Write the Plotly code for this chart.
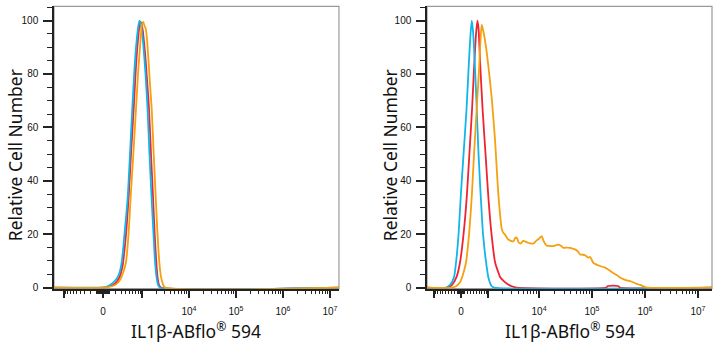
import numpy as np
import plotly.graph_objects as go

# ---------------- data (x in biexponential display decades, y in % of max) ----------------
left_blue_x = [-1.043, -0.064, 0.064, 0.149, 0.255, 0.340, 0.398, 0.457, 0.526, 0.574, 0.623, 0.670,
               0.713, 0.751, 0.777, 0.819, 0.862, 0.904, 0.947, 0.989, 1.032, 1.074, 1.106, 1.138,
               1.170, 1.213, 5.021]
left_blue_y = [0, 0, 0.3, 1, 2.5, 5, 9.5, 20, 34, 50, 67, 82,
               92, 98, 100, 97, 90, 80, 67, 50, 34, 20, 10, 4,
               1, 0, 0]

left_red_x = [-1.043, 0.021, 0.149, 0.255, 0.340, 0.415, 0.479, 0.543, 0.596, 0.653, 0.702, 0.745,
              0.777, 0.802, 0.840, 0.894, 0.936, 0.979, 1.021, 1.064, 1.100, 1.132, 1.160, 1.191,
              1.234, 5.021]
left_red_y = [0, 0, 0.5, 1.5, 3.5, 8, 18, 33, 50, 67, 83, 93,
              98, 99.5, 97, 88, 78, 67, 50, 34, 20, 10, 4, 1,
              0, 0]

left_orange_x = [-1.043, 0.021, 0.191, 0.298, 0.383, 0.436, 0.489, 0.543, 0.589, 0.645, 0.702, 0.745,
                 0.787, 0.823, 0.840, 0.857, 0.883, 0.909, 0.936, 0.968, 1.000, 1.036, 1.079, 1.121,
                 1.160, 1.198, 1.234, 1.277, 1.319, 5.021]
left_orange_y = [0, 0, 0.5, 1.5, 3.5, 6, 9.5, 20, 34, 50, 67, 80,
                 90, 98, 99, 99.5, 98, 97, 93, 85, 76, 67, 50, 34,
                 20, 9.5, 4, 1.2, 0, 0]

right_blue_x = [-0.642, -0.283, -0.208, -0.132, -0.094, -0.047, -0.006, 0.047, 0.104, 0.142, 0.179,
                0.202, 0.226, 0.264, 0.296, 0.330, 0.372, 0.415, 0.472, 0.519, 0.579, 0.623, 4.736]
right_blue_y = [0, 0, 1, 4, 9.5, 20, 34, 50, 67, 82, 95,
                100, 96, 82, 67, 50, 34, 20, 9.5, 3.5, 0.5, 0, 0]

right_red_x = [-0.642, -0.245, -0.170, -0.085, -0.019, 0.047, 0.108, 0.157, 0.208, 0.245, 0.283,
               0.308, 0.330, 0.358, 0.406, 0.462, 0.515, 0.575, 0.642, 0.698, 0.736, 0.802,
               0.862, 0.957, 1.051, 2.736, 2.774, 2.962, 3.000, 4.736]
right_red_y = [0, 0, 1, 4, 9.5, 20, 34, 50, 67, 82, 95,
               100, 97, 85, 67, 50, 34, 20, 9.5, 6, 4, 2.5,
               1.5, 0.5, 0, 0, 0.6, 0.6, 0, 0]

right_orange_x = [-0.642, -0.170, -0.094, -0.019, 0.038, 0.094, 0.151, 0.202, 0.245, 0.296, 0.340,
                  0.368, 0.391, 0.421, 0.472, 0.515, 0.579, 0.642, 0.704, 0.768, 0.798, 0.830,
                  0.892, 0.943, 0.987, 1.028, 1.057, 1.085, 1.126, 1.170, 1.208, 1.264, 1.302,
                  1.364, 1.428, 1.481, 1.523, 1.557, 1.617, 1.679, 1.742, 1.836, 1.877, 1.930,
                  2.000, 2.057, 2.151, 2.208, 2.245, 2.302, 2.340, 2.402, 2.434, 2.496, 2.547,
                  2.623, 2.717, 2.811, 2.868, 2.938, 3.000, 3.062, 3.132, 3.221, 3.302, 3.377,
                  3.472, 3.509, 4.736]
right_orange_y = [0, 0, 0.5, 2, 5, 9.5, 20, 34, 50, 67, 82,
                  93, 98.5, 96, 90, 83, 71, 55, 35, 22, 20.5, 19.8,
                  18, 17.5, 17.3, 18.8, 18.5, 17, 16.5, 17.5, 17.3, 16.8, 16.6,
                  16.5, 17.7, 18.5, 19.3, 17.5, 15.7, 15.6, 15.5, 16.1, 15.8, 14.9,
                  15, 14.9, 14.3, 13.5, 12.4, 12.3, 12.1, 11.2, 11.5, 9.3, 8.7,
                  8.1, 7.5, 6.3, 5.5, 4.7, 3.8, 3.2, 2.7, 2.2, 1.5, 1.0,
                  0.2, 0, 0]

# biexponential (arcsinh) width constants for each panel
C_LEFT = 296.0
C_RIGHT = 676.0

major_tick_values = [-1000, 0, 1000, 1e4, 1e5, 1e6, 1e7]
major_tick_text = ["", "0", "", "10<sup>4</sup>", "10<sup>5</sup>", "10<sup>6</sup>", "10<sup>7</sup>"]
minor_values = ([-s * k * 10 for k in range(1, 10) for s in (1, -1)] +
                [-s * k * 100 for k in range(1, 10) for s in (1, -1)] +
                [-k * 1000 for k in range(2, 10)] +
                [k * 10 ** n for n in range(3, 7) for k in range(2, 10)])

y_tick_values = [0, 20, 40, 60, 80, 100]

BLUE = "#12B5EA"
RED = "#EE2431"
ORANGE = "#F5A00E"


def biex(v, c):
    return np.arcsinh(np.asarray(v, dtype=float) / c) / np.log(10)


fig = go.Figure()

panels = [
    ("x", "y", left_red_x, left_red_y, left_blue_x, left_blue_y, left_orange_x, left_orange_y),
    ("x2", "y2", right_red_x, right_red_y, right_blue_x, right_blue_y, right_orange_x, right_orange_y),
]
for xa, ya, rx, ry, bx, by, ox, oy in panels:
    for xs, ys, col in ((rx, ry, RED), (bx, by, BLUE), (ox, oy, ORANGE)):
        fig.add_trace(go.Scatter(x=xs, y=ys, xaxis=xa, yaxis=ya, mode="lines",
                                 line=dict(color=col, width=1.8, shape="spline", smoothing=0.6),
                                 showlegend=False, hoverinfo="skip"))

tick_font = dict(family="Liberation Sans, Arial, sans-serif", size=10, color="#111")


def xaxis_cfg(domain, c, rng, anchor):
    lo, hi = rng
    mins = [v for v in minor_values if lo <= biex(v, c) <= hi]
    return dict(domain=domain, range=[lo, hi], anchor=anchor, showgrid=False, zeroline=False,
                showline=True, linecolor="#222", linewidth=1.5,
                ticks="outside", ticklen=8, tickwidth=1.5, tickcolor="#222",
                tickmode="array", tickvals=list(biex(major_tick_values, c)),
                ticktext=major_tick_text, tickfont=tick_font, ticklabelstandoff=5,
                minor=dict(tickmode="array", tickvals=list(biex(mins, c)), ticks="outside",
                           ticklen=4, tickwidth=1.2, tickcolor="#222", showgrid=False),
                fixedrange=True)


def yaxis_cfg(anchor):
    return dict(domain=[0.1657, 0.9814], range=[-0.4, 105.3], anchor=anchor,
                showgrid=False, zeroline=False, showline=True, linecolor="#222", linewidth=1.5,
                ticks="outside", ticklen=9, tickwidth=1.5, tickcolor="#222",
                tickmode="array", tickvals=y_tick_values, tickfont=tick_font,
                ticklabelstandoff=3,
                minor=dict(dtick=5, ticks="outside", ticklen=5, tickwidth=1.2, tickcolor="#222",
                           showgrid=False),
                fixedrange=True)


fig.update_layout(
    width=720, height=350, margin=dict(l=0, r=0, t=0, b=0),
    paper_bgcolor="white", plot_bgcolor="white", showlegend=False,
    xaxis=xaxis_cfg([0.075, 0.4708], C_LEFT, (-1.043, 5.021), "y"),
    yaxis=yaxis_cfg("x"),
    xaxis2=xaxis_cfg([0.5931, 0.9889], C_RIGHT, (-0.642, 4.736), "y2"),
    yaxis2=yaxis_cfg("x2"),
)

title_font = dict(family="Noto Sans, Open Sans, sans-serif", size=17.5, color="#111")
for xr, yr in (("x", "y"), ("x2", "y2")):
    fig.add_shape(type="rect", xref=f"{xr} domain", yref=f"{yr} domain", x0=0, x1=1, y0=0, y1=1,
                  line=dict(color="#9a9a9a", width=1.2), layer="below")

annos = [
    (0.2729, 0.046, "IL1β-ABflo<sup>®</sup> 594", 0),
    (0.7917, 0.046, "IL1β-ABflo<sup>®</sup> 594", 0),
    (0.0208, 0.5514, "Relative Cell Number", -90),
    (0.5417, 0.5514, "Relative Cell Number", -90),
]
for x, y, t, ang in annos:
    fig.add_annotation(x=x, y=y, xref="paper", yref="paper", text=t, showarrow=False,
                       textangle=ang, font=title_font, xanchor="center", yanchor="middle")

fig.write_html("out.html")
